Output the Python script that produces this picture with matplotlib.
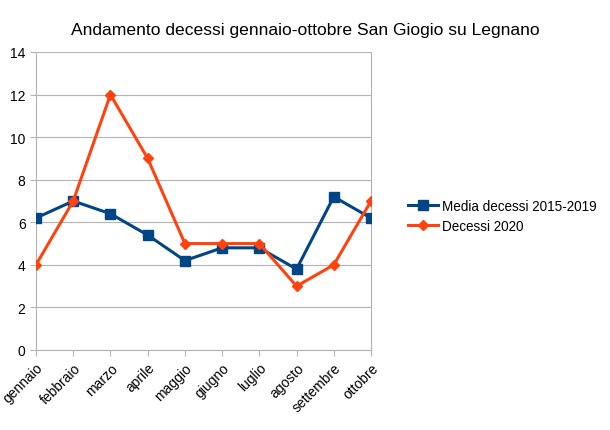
import numpy as np
import matplotlib.pyplot as plt

plt.rcParams['font.family'] = ['Liberation Sans', 'DejaVu Sans']

mesi = ['gennaio', 'febbraio', 'marzo', 'aprile', 'maggio', 'giugno',
        'luglio', 'agosto', 'settembre', 'ottobre']
media_2015_2019 = [6.2, 7.0, 6.4, 5.4, 4.2, 4.8, 4.8, 3.8, 7.2, 6.2]
decessi_2020 = [4, 7, 12, 9, 5, 5, 5, 3, 4, 7]

x = np.arange(len(mesi))

fig = plt.figure(figsize=(6.1, 4.31), dpi=100)
ax = fig.add_axes([36 / 610, 1 - 351 / 431, (371 - 36) / 610, (351 - 53) / 431])

ax.plot(x, media_2015_2019, color='#004586', lw=2.2, marker='s', ms=6.5,
        label='Media decessi 2015-2019', zorder=3)
ax.plot(x, decessi_2020, color='#ff420e', lw=2.2, marker='D', ms=5.5,
        label='Decessi 2020', zorder=4)

ax.set_xlim(0, 9)
ax.set_ylim(0, 14)
ax.set_yticks(range(0, 15, 2))
ax.set_xticks(x)
ax.set_xticklabels(mesi, rotation=45, ha='right', rotation_mode='anchor')
ax.tick_params(labelsize=10, colors='#b3b3b3', labelcolor='black', length=4)
ax.yaxis.grid(True, color='#b3b3b3', lw=0.8)
ax.set_axisbelow(True)
for s in ax.spines.values():
    s.set_color('#b3b3b3')
ax.spines['top'].set_visible(False)

fig.text(305 / 610, 1 - 30 / 431, 'Andamento decessi gennaio-ottobre San Giogio su Legnano',
         ha='center', va='center', fontsize=12.6)

fig.legend(loc='center left', bbox_to_anchor=(401 / 610, 1 - 217 / 431), frameon=False,
           fontsize=9.75, handlelength=2.2, borderpad=0, labelspacing=0.45, handletextpad=0.3)

fig.savefig('out.png', dpi=100)
